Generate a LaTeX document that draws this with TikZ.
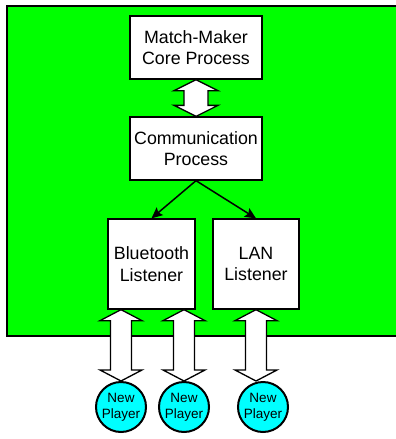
\documentclass[tikz,border=0pt]{standalone}
\usepackage{fontspec}
\setmainfont{Liberation Sans}
\usetikzlibrary{arrows.meta,calc}
\definecolor{bggreen}{HTML}{00FF00}
\definecolor{playercyan}{HTML}{00FFFF}
\tikzset{
  procbox/.style={draw=black,line width=1.3pt,fill=white,align=center,inner sep=0pt,
    font=\fontsize{17.8}{21.5}\selectfont},
  playernode/.style={circle,draw=black,line width=2pt,fill=playercyan,align=center,inner sep=0pt,
    minimum size=50pt,font=\fontsize{13.5}{16}\selectfont},
  linkarrow/.style={line width=1.5pt,-{Stealth[length=11pt,width=10pt,inset=2pt]}},
  fatarrow/.style={draw=black,line width=1.3pt,fill=white,line join=miter}
}
\newcommand\fatdbl[5]{% top, bottom, head half width, shaft half width, head length
  \path let \p1=(#1), \p2=(#2) in
    [fatarrow] (\x1,\y1) -- (\x1+#3,\y1-#5) -- (\x1+#4,\y1-#5) -- (\x1+#4,\y2+#5)
    -- (\x1+#3,\y2+#5) -- (\x1,\y2) -- (\x1-#3,\y2+#5) -- (\x1-#4,\y2+#5)
    -- (\x1-#4,\y1-#5) -- (\x1-#3,\y1-#5) -- cycle;}
\begin{document}
\begin{tikzpicture}[x=1pt,y=-1pt]
\useasboundingbox (0,0) rectangle (396,439);
\fill[white] (0,0) rectangle (396,439);
\draw[line width=2pt,fill=bggreen] (7,6) rectangle (400,336);
\node[procbox,minimum width=132pt,minimum height=63pt] (mm) at (196,47.5) {Match-Maker\\Core Process};
\node[procbox,minimum width=132pt,minimum height=63pt] (comm) at (196,148.5) {Communication\\Process};
\node[procbox,minimum width=87pt,minimum height=90pt] (bt) at (151.5,264) {Bluetooth\\Listener};
\node[procbox,minimum width=86pt,minimum height=90pt] (lan) at (256,264) {LAN\\Listener};
\node[playernode] (p1) at (121,407) {New\\Player};
\node[playernode] (p2) at (184,407) {New\\Player};
\node[playernode] (p3) at (263,407) {New\\Player};
\fatdbl{mm.south}{comm.north}{22pt}{12pt}{11pt}
\draw[linkarrow] (comm.south) -- (bt.north);
\draw[linkarrow] (comm.south) -- (lan.north);
\coordinate (a1t) at (bt.south -| p1);
\coordinate (a2t) at (bt.south -| p2);
\fatdbl{a1t}{p1.north}{21pt}{10.5pt}{11pt}
\fatdbl{a2t}{p2.north}{21pt}{10.5pt}{11pt}
\coordinate (a3b) at (lan.south |- p1.north);
\fatdbl{lan.south}{a3b}{21pt}{10.5pt}{11pt}
\end{tikzpicture}
\end{document}
